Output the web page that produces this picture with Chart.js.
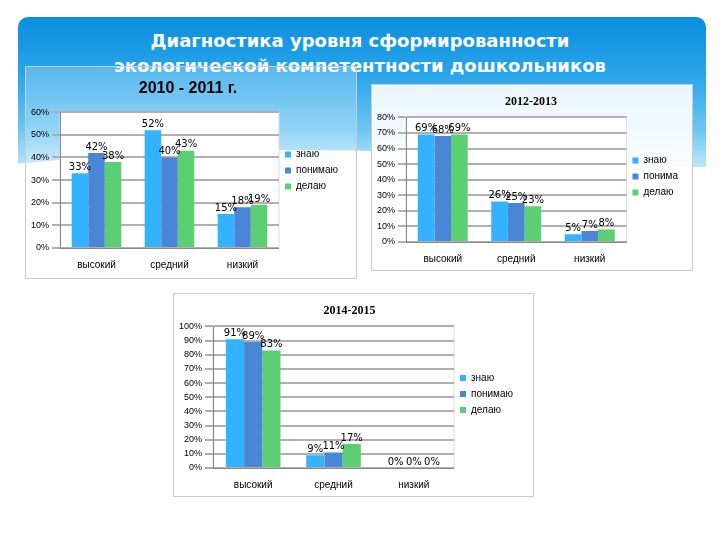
<!DOCTYPE html>
<html><head><meta charset="utf-8">
<script src="https://cdn.jsdelivr.net/npm/chart.js@4"></script>
<style>
body{margin:0;width:720px;height:540px;background:#fff;position:relative;overflow:hidden;font-family:"DejaVu Sans",sans-serif}
#band{position:absolute;left:18px;top:17px;width:688px;height:150px;border-radius:10px 10px 0 0;
background:linear-gradient(180deg,#0b8ede 0%,#2aa6ea 40%,#6cc6f3 75%,#bfe6fb 100%)}
#wave{position:absolute;left:-200px;top:150px;width:1000px;height:160px;border-radius:50%;background:#fff}
#title{position:absolute;left:0;width:720px;top:28px;text-align:center;color:#fff;font-weight:bold;font-size:18px;line-height:25px}
.box{position:absolute;border:1px solid #ccc}
canvas{display:block}
</style></head><body>
<div id="band"></div><div id="wave"></div>
<div id="title">Диагностика уровня сформированности<br>экологической компетентности дошкольников</div>
<div class="box" style="left:25px;top:66px;width:330px;height:211px;background:rgba(255,255,255,0.25)"><canvas id="c1"></canvas></div>
<div class="box" style="left:371px;top:84px;width:320px;height:185px;background:rgba(255,255,255,0.9)"><canvas id="c2"></canvas></div>
<div class="box" style="left:173px;top:293px;width:359px;height:202px;background:#fff"><canvas id="c3"></canvas></div>
<script>
const categories = ['высокий', 'средний', 'низкий'];
const seriesNames = ['знаю', 'понимаю', 'делаю'];
const colors = ['#33b3ff', '#4a86d6', '#5ccf74'];
const y2010 = [[33, 52, 15], [42, 40, 18], [38, 43, 19]];
const y2012 = [[69, 26, 5], [68, 25, 7], [69, 23, 8]];
const y2014 = [[91, 9, 0], [89, 11, 0], [83, 17, 0]];

const areaPlugin = {
  id: 'area',
  beforeDraw(chart) {
    const a = chart.chartArea, ctx = chart.ctx;
    ctx.save();
    ctx.fillStyle = '#fff';
    ctx.fillRect(a.left, a.top, a.width, a.height);
    ctx.strokeStyle = '#ddd';
    ctx.strokeRect(a.left, a.top, a.width, a.height);
    ctx.restore();
  }
};

const labelPlugin = {
  id: 'vals',
  afterDatasetsDraw(chart) {
    const ctx = chart.ctx;
    ctx.save();
    ctx.font = '10px "DejaVu Sans"';
    ctx.fillStyle = '#000';
    ctx.textAlign = 'center';
    ctx.textBaseline = 'bottom';
    chart.data.datasets.forEach((ds, i) => {
      chart.getDatasetMeta(i).data.forEach((bar, j) => {
        ctx.fillText(ds.data[j] + '%', bar.x, bar.y - 1);
      });
    });
    ctx.restore();
  }
};

function makeChart(id, w, h, values, max, title, pad, legendNames) {
  const cv = document.getElementById(id);
  cv.width = w; cv.height = h;
  new Chart(cv, {
    type: 'bar',
    data: {
      labels: categories,
      datasets: values.map((v, i) => ({
        label: legendNames[i], data: v, backgroundColor: colors[i],
        categoryPercentage: 0.68, barPercentage: 1
      }))
    },
    options: {
      responsive: false, animation: false,
      layout: { padding: pad },
      plugins: {
        title: title,
        legend: { position: 'right', labels: { boxWidth: 6, boxHeight: 6, font: { size: 10 }, color: '#000', padding: 6 } },
        tooltip: { enabled: false }
      },
      scales: {
        x: { grid: { display: false }, border: { color: '#888' }, ticks: { color: '#000', font: { size: 10 } } },
        y: {
          min: 0, max: max,
          grid: { color: '#b0b0b0', lineWidth: 2 }, border: { color: '#888' },
          ticks: { stepSize: 10, autoSkip: false, color: '#000', font: { size: 9 }, callback: v => v + '%' }
        }
      }
    },
    plugins: [areaPlugin, labelPlugin]
  });
}

makeChart('c1', 330, 211, y2010, 60,
  { display: true, text: '2010 - 2011 г.', color: '#000', font: { size: 16, weight: 'bold' }, padding: { top: 12, bottom: 14 } },
  { left: 2, right: 8, top: 0, bottom: 4 }, seriesNames);
makeChart('c2', 320, 185, y2012, 80,
  { display: true, text: '2012-2013', color: '#000', font: { size: 12, weight: 'bold', family: 'Liberation Serif' }, padding: { top: 10, bottom: 8 } },
  { left: 2, right: 4, top: 0, bottom: 2 }, ['знаю', 'понима', 'делаю']);
makeChart('c3', 359, 202, y2014, 100,
  { display: true, text: '2014-2015', color: '#000', font: { size: 12, weight: 'bold', family: 'Liberation Serif' }, padding: { top: 10, bottom: 8 } },
  { left: 2, right: 10, top: 0, bottom: 2 }, seriesNames);
</script>
</body></html>
